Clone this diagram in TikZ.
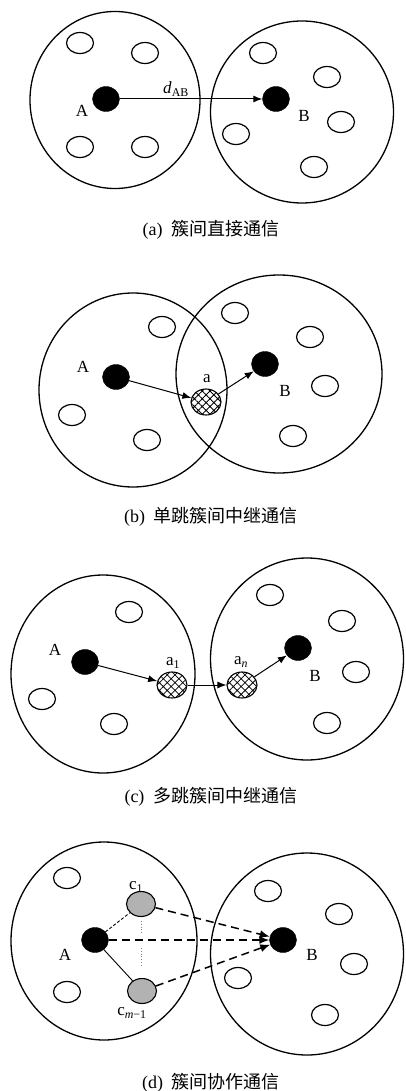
\documentclass[tikz,border=0pt]{standalone}
\usepackage{fontspec}
\setmainfont{Liberation Serif}
\newfontfamily\cjk{Noto Sans CJK SC}
\usetikzlibrary{shapes.geometric,arrows.meta,patterns.meta}
\begin{document}
\begin{tikzpicture}[x=1pt,y=-1pt,
 cluster/.style={draw, ellipse, line width=1.3pt, inner sep=0pt},
 member/.style={draw, ellipse, line width=1.2pt, minimum width=27pt, minimum height=21pt, inner sep=0pt},
 head/.style={draw, ellipse, fill=black, minimum width=27pt, minimum height=25pt, inner sep=0pt},
 relay/.style={draw, ellipse, line width=1.1pt, minimum width=30pt, minimum height=26pt, inner sep=0pt, pattern={Hatch[angle=45,distance=5.5pt,line width=0.8pt]}},
 coop/.style={draw, ellipse, line width=1.1pt, fill=gray!60, minimum width=29pt, minimum height=25pt, inner sep=0pt},
 lbl/.style={font=\fontsize{17}{17}\selectfont, inner sep=0pt},
 captxt/.style={font=\fontsize{18}{20}\selectfont, inner sep=0pt},
 link/.style={-{Latex[length=9pt,width=7pt]}, line width=1pt},
 coopl/.style={-{Latex[length=10pt,width=8pt]}, line width=1.5pt, dash pattern=on 8pt off 5pt},
]
\useasboundingbox (0,0) rectangle (406,1091);

% ---------- (a)
\node[cluster, minimum width=170pt, minimum height=177pt] (La) at (115,100) {};
\node[cluster, minimum width=183pt, minimum height=182pt] (Ra) at (302,112) {};
\node[member] (a1) at (80,43) {};
\node[member] (a2) at (145,53) {};
\node[member] (a3) at (80,147) {};
\node[member] (a4) at (145,147) {};
\node[member] (a5) at (263,53) {};
\node[member] (a6) at (327,77) {};
\node[member] (a7) at (341,122) {};
\node[member] (a8) at (236,134) {};
\node[member] (a9) at (314,167) {};
\node[head] (Aa) at (106,99) {};
\node[head] (Ba) at (276,99) {};
\node[lbl] (Aal) at (82,111) {A};
\node[lbl] (Bal) at (304,116) {B};
\node[lbl] (dab) at (176,89) {\textit{d}\textsubscript{AB}};
\draw[link] (Aa) -- (Ba);
\node[captxt] (capa) at (211,230) {(a)\ \ {\cjk 簇间直接通信}};

% ---------- (b)
\node[cluster, minimum width=188pt, minimum height=194pt] (Lb) at (133,390) {};
\node[cluster, minimum width=206pt, minimum height=198pt] (Rb) at (279,374) {};
\node[member] (b1) at (162,327) {};
\node[member] (b2) at (72,415) {};
\node[member] (b3) at (147,440) {};
\node[member] (b4) at (235,313) {};
\node[member] (b5) at (310,337) {};
\node[member] (b6) at (325,386) {};
\node[member] (b7) at (293,436) {};
\node[head] (Ab) at (116,377) {};
\node[head] (Bb) at (265,364) {};
\node[relay] (rb) at (206,402) {};
\node[lbl] (Abl) at (83,367) {A};
\node[lbl] (Bbl) at (285,391) {B};
\node[lbl] (rbl) at (207,379) {a};
\draw[link] (Ab) -- (rb);
\draw[link] (rb) -- (Bb);
\node[captxt] (capb) at (211,517) {(b)\ \ {\cjk 单跳簇间中继通信}};

% ---------- (c)
\node[cluster, minimum width=184pt, minimum height=198pt] (Lc) at (103,674) {};
\node[cluster, minimum width=193pt, minimum height=202pt] (Rc) at (307,659) {};
\node[member] (c1m) at (129,612) {};
\node[member] (c2m) at (42,699) {};
\node[member] (c3m) at (114,724) {};
\node[member] (c4m) at (270,595) {};
\node[member] (c5m) at (342,621) {};
\node[member] (c6m) at (356,672) {};
\node[member] (c7m) at (327,723) {};
\node[head] (Ac) at (85,662) {};
\node[head] (Bc) at (298,648) {};
\node[relay] (r1) at (172,685) {};
\node[relay] (rn) at (242,685) {};
\node[lbl] (Acl) at (55,650) {A};
\node[lbl] (Bcl) at (315,676) {B};
\node[lbl] (r1l) at (173,663) {a\textsubscript{1}};
\node[lbl] (rnl) at (241,662) {a\textsubscript{\textit{n}}};
\draw[link] (Ac) -- (r1);
\draw[link] (r1) -- (rn);
\draw[link] (rn) -- (Bc);
\node[captxt] (capc) at (211,797) {(c)\ \ {\cjk 多跳簇间中继通信}};

% ---------- (d)
\node[cluster, minimum width=186pt, minimum height=198pt] (Ld) at (104,941) {};
\node[cluster, minimum width=193pt, minimum height=202pt] (Rd) at (307,954) {};
\node[member] (d1m) at (67,878) {};
\node[member] (d2m) at (67,992) {};
\node[member] (d3m) at (268,891) {};
\node[member] (d4m) at (339,914) {};
\node[member] (d5m) at (354,964) {};
\node[member] (d6m) at (238,978) {};
\node[member] (d7m) at (325,1015) {};
\node[head] (Ad) at (95,940) {};
\node[head] (Bd) at (283,940) {};
\node[coop] (cf) at (141,904) {};
\node[coop] (cl) at (142,991) {};
\node[lbl] (Adl) at (65,955) {A};
\node[lbl] (Bdl) at (312,955) {B};
\node[lbl] (cfl) at (136,887) {c\textsubscript{1}};
\node[lbl] (cll) at (132,1013) {c\textsubscript{\textit{m}−1}};
\coordinate (v1) at (141,921);
\coordinate (v2) at (141,934);
\coordinate (v3) at (141,948);
\coordinate (v4) at (141,966);
\draw[gray, line width=0.8pt, dotted] (v1) -- (v2) (v3) -- (v4);
\draw[line width=0.9pt, dash pattern=on 3pt off 2pt] (Ad) -- (cf);
\draw[line width=0.9pt] (Ad) -- (cl);
\draw[coopl] (cf) -- (Bd);
\draw[coopl] (Ad) -- (Bd);
\draw[coopl] (cl) -- (Bd);
\node[captxt] (capd) at (211,1083) {(d)\ \ {\cjk 簇间协作通信}};
\end{tikzpicture}
\end{document}
